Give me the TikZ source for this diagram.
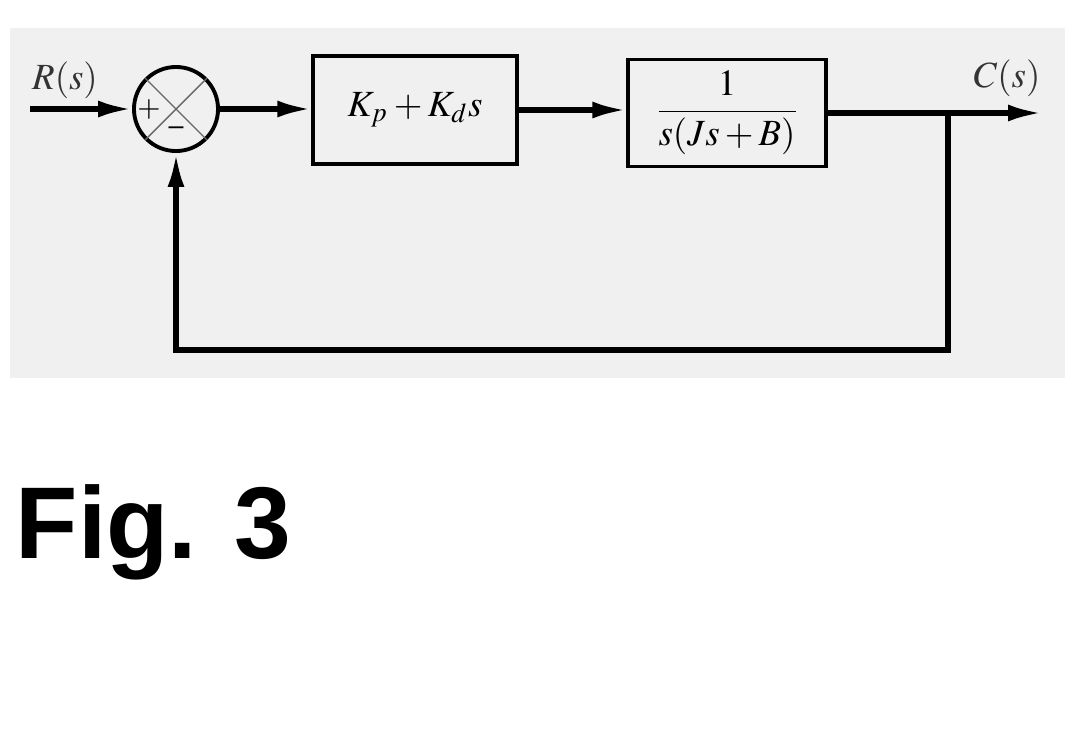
\documentclass[tikz,border=0pt]{standalone}
\usepackage{mathptmx}
\usepackage[no-math]{fontspec}
\setmainfont{Liberation Serif}
\newfontfamily\figfont{Liberation Sans}
\usetikzlibrary{arrows.meta}

\begin{document}
\begin{tikzpicture}[x=0.01cm,y=-0.01cm,font=\fontsize{10.5}{12}\selectfont,
  blk/.style={draw,line width=0.9pt,inner sep=0pt},
  sig/.style={line width=1.5pt,-{Latex[length=0.34cm,width=0.17cm]}},
  lbl/.style={text=black!80}]

\useasboundingbox (0,0) rectangle (1080,745);
\fill[gray!12] (10,28) rectangle (1065,378);

\node[circle,draw,line width=1.1pt,minimum size=0.84cm,inner sep=0pt] (sum) at (176,109) {};
\draw[black!60,line width=0.4pt] (sum.45) -- (sum.225) (sum.135) -- (sum.315);
\node[font=\sffamily\fontsize{8}{8}\selectfont] (plus) at (149,109) {+};
\node[font=\sffamily\fontsize{8}{8}\selectfont] (minus) at (176,131) {--};

\node[blk,minimum width=2.04cm,minimum height=1.08cm] (ctrl) at (415,110) {$K_p + K_d s$};
\node[blk,minimum width=1.98cm,minimum height=1.07cm] (plant) at (727,113) {$\displaystyle\frac{1}{s(Js + B)}$};

\coordinate (in) at (30,109);
\coordinate (br) at (948,113);
\coordinate (out) at (1042,113);
\coordinate (fbl) at (948,350);

\draw[sig] (in) -- (sum.west);
\draw[sig] (sum.east) -- (ctrl.west |- sum.east);
\draw[sig] (ctrl.east) -- (plant.west |- ctrl.east);
\draw[sig] (plant.east) -- (out);
\draw[sig] (br) -- (fbl) -| (sum.south);

\node[lbl] (r) at (65,80) {$R(s)$};
\node[lbl] (c) at (1007,78) {$C(s)$};

\node[anchor=base west,inner sep=0pt,font=\figfont\bfseries\fontsize{29}{30}\selectfont] (fig) at (15,558) {Fig. 3};

\end{tikzpicture}
\end{document}
